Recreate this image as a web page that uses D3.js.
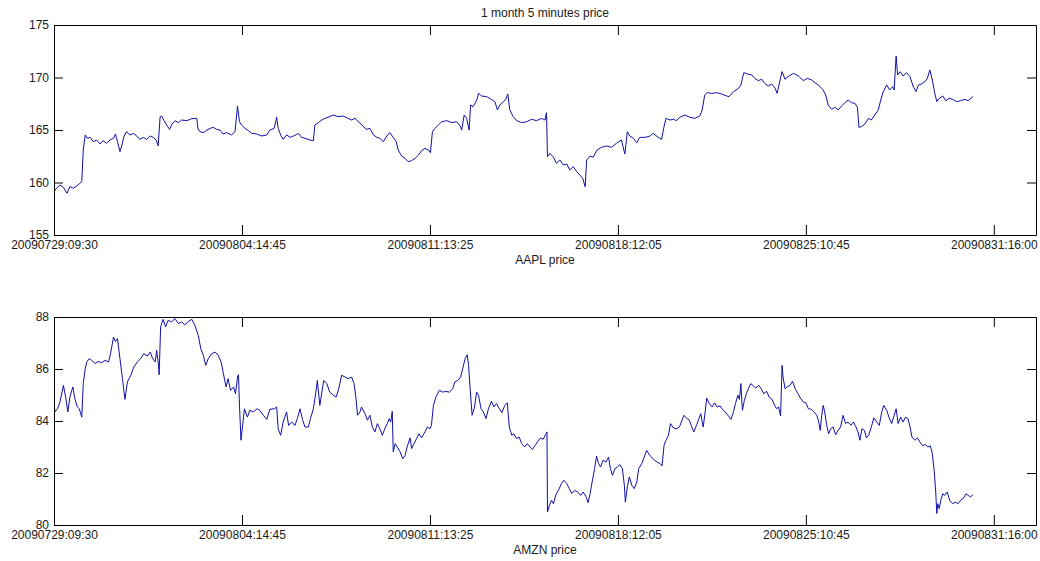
<!DOCTYPE html>
<html>
<head>
<meta charset="utf-8">
<script src="https://cdn.jsdelivr.net/npm/d3@7"></script>
<style>
  html, body { margin: 0; padding: 0; background: #fff; }
  svg { display: block; }
  text { font-family: "Liberation Sans", Arial, Helvetica, sans-serif; }
</style>
</head>
<body>
<svg id="chart" width="1040" height="561"></svg>
<script>
// Sample index (5-minute bars, 79 per trading day) at which each date label sits
const xTickIndex = [0, 379, 758, 1137, 1516, 1895];
const xTickLabels = ["20090729:09:30", "20090804:14:45", "20090811:13:25",
                     "20090818:12:05", "20090825:10:45", "20090831:16:00"];
const xDomain = [0, 1980];

const aaplTicks = [155, 160, 165, 170, 175];
const amznTicks = [80, 82, 84, 86, 88];

// [sample index, price]
const aaplSeries = [
[0,159.13],[5,159.45],[12,159.76],[19,159.54],[26,158.97],[32,159.60],[39,159.45],[46,159.67],[52,159.92],[56,160.08],[59,163.10],[63,164.53],[67,164.21],[73,164.30],[79,163.89],[86,164.05],[93,163.67],[99,163.98],[106,163.73],[113,164.05],[120,164.21],[124,164.62],[128,163.89],[133,162.94],[137,163.57],[141,164.37],[146,164.84],[153,164.53],[160,164.68],[167,164.43],[173,164.11],[180,164.30],[187,164.11],[194,164.43],[200,164.30],[206,164.05],[210,163.48],[214,166.27],[217,166.33],[222,165.89],[227,165.48],[233,165.06],[238,165.57],[244,165.89],[251,165.70],[257,165.95],[268,165.89],[278,166.08],[288,166.11],[290,165.16],[294,164.84],[301,164.75],[308,164.99],[315,165.16],[321,165.25],[328,165.06],[335,164.99],[341,164.62],[348,164.75],[358,164.53],[365,164.84],[367,165.79],[370,167.29],[374,165.79],[378,165.48],[385,165.16],[392,164.94],[399,164.68],[409,164.62],[419,164.43],[429,164.53],[435,164.99],[444,165.16],[449,166.21],[452,165.16],[457,164.53],[462,164.11],[469,164.53],[476,164.30],[483,164.43],[493,164.68],[499,164.30],[506,164.21],[516,164.05],[523,163.98],[526,165.48],[533,165.70],[540,165.95],[546,166.11],[556,166.27],[563,166.43],[573,166.27],[583,166.33],[593,166.11],[600,165.95],[607,166.11],[617,165.64],[624,165.32],[630,165.06],[637,165.16],[644,164.53],[651,164.30],[657,164.21],[664,163.89],[671,164.43],[677,164.75],[684,164.30],[690,163.89],[694,163.10],[701,162.52],[708,162.30],[714,161.98],[721,162.08],[728,162.30],[735,162.62],[741,163.03],[748,163.25],[755,163.10],[759,162.84],[763,164.84],[768,165.16],[775,165.48],[782,165.79],[792,165.89],[802,165.70],[812,165.79],[819,165.38],[822,164.99],[827,166.43],[832,166.11],[837,164.99],[840,167.38],[845,167.22],[852,167.79],[856,168.49],[862,168.24],[872,168.18],[882,167.92],[889,167.70],[894,166.91],[899,167.38],[906,167.70],[911,167.92],[915,168.43],[919,166.91],[926,166.27],[933,165.89],[943,165.70],[953,165.79],[963,166.02],[973,165.89],[983,166.11],[990,165.95],[993,166.65],[995,162.46],[1000,162.78],[1007,162.40],[1013,161.83],[1020,162.14],[1027,161.67],[1034,161.76],[1040,161.19],[1047,161.51],[1054,161.03],[1060,160.72],[1066,160.40],[1071,159.60],[1074,162.14],[1081,162.52],[1087,162.40],[1095,163.10],[1104,163.35],[1114,163.48],[1124,163.35],[1134,163.73],[1144,164.05],[1151,162.72],[1156,164.84],[1161,164.43],[1168,164.21],[1175,163.79],[1181,164.30],[1192,164.30],[1202,164.43],[1208,164.68],[1218,164.30],[1225,164.11],[1230,165.32],[1234,166.11],[1242,165.95],[1249,166.02],[1255,165.89],[1262,166.21],[1272,166.43],[1282,166.21],[1292,166.11],[1302,166.33],[1307,166.91],[1312,168.33],[1317,168.56],[1326,168.49],[1336,168.56],[1346,168.43],[1356,168.24],[1361,168.18],[1370,168.65],[1380,168.97],[1385,169.29],[1388,169.92],[1391,170.46],[1398,170.33],[1407,170.24],[1413,169.92],[1420,169.70],[1427,169.83],[1433,169.45],[1440,169.19],[1447,169.38],[1454,168.97],[1458,168.49],[1464,169.76],[1468,170.56],[1474,169.83],[1480,170.08],[1491,170.40],[1501,170.14],[1511,169.70],[1519,169.92],[1528,169.76],[1534,169.51],[1541,169.29],[1550,168.87],[1556,168.33],[1561,167.38],[1568,166.97],[1575,167.16],[1581,166.91],[1588,167.29],[1595,167.60],[1601,167.86],[1608,167.60],[1615,167.54],[1620,167.16],[1623,165.25],[1628,165.32],[1635,165.57],[1642,166.11],[1648,165.95],[1655,166.43],[1662,166.91],[1667,167.86],[1672,168.65],[1679,169.29],[1685,168.81],[1691,169.13],[1694,168.81],[1698,172.05],[1701,170.24],[1706,170.56],[1712,170.14],[1719,170.46],[1726,170.08],[1732,169.19],[1738,168.65],[1743,169.29],[1749,169.38],[1756,169.60],[1761,169.92],[1766,170.72],[1771,169.76],[1776,168.49],[1780,167.70],[1785,168.02],[1792,168.24],[1798,167.79],[1805,168.02],[1812,167.92],[1820,167.70],[1828,167.79],[1837,167.92],[1843,167.79],[1849,168.02],[1853,168.18]
];

const amznSeries = [
[0,84.73],[2,84.35],[7,84.47],[12,84.73],[19,85.37],[24,84.86],[28,84.35],[32,84.92],[38,85.31],[42,84.86],[47,84.54],[51,84.47],[56,84.15],[59,85.44],[63,86.01],[66,86.27],[71,86.40],[76,86.33],[83,86.21],[89,86.29],[96,86.24],[103,86.33],[110,86.27],[114,86.59],[120,87.23],[124,87.06],[128,87.17],[133,86.40],[138,85.63],[143,84.83],[148,85.50],[155,85.76],[161,86.08],[168,86.27],[175,86.40],[181,86.59],[188,86.50],[194,86.65],[199,86.40],[204,86.27],[207,86.72],[210,86.27],[212,85.78],[215,87.62],[220,87.91],[225,87.62],[230,87.87],[237,87.81],[244,87.94],[251,87.74],[257,87.81],[264,87.70],[271,87.83],[278,87.91],[284,87.68],[291,87.29],[296,86.78],[301,86.53],[306,86.14],[311,86.40],[318,86.59],[325,86.65],[331,86.53],[337,86.27],[341,85.88],[347,85.31],[351,85.63],[356,85.18],[362,85.31],[366,85.05],[370,85.69],[372,85.78],[374,84.60],[377,83.26],[380,83.77],[384,84.47],[390,84.15],[395,84.41],[402,84.35],[409,84.47],[415,84.41],[422,84.22],[429,84.06],[435,84.45],[444,84.47],[449,84.54],[452,83.70],[457,83.45],[462,83.96],[469,84.35],[473,83.83],[479,83.96],[486,83.83],[491,84.12],[496,84.47],[501,84.06],[506,83.77],[513,83.77],[517,84.09],[523,84.47],[528,85.11],[531,85.56],[536,84.60],[540,85.11],[544,85.56],[550,85.44],[556,85.11],[563,84.99],[569,84.92],[574,85.24],[580,85.76],[587,85.69],[593,85.63],[600,85.69],[605,85.44],[609,84.86],[612,84.22],[617,84.35],[620,84.54],[627,84.28],[632,84.03],[637,84.22],[642,83.77],[647,83.58],[652,83.90],[657,83.70],[662,83.45],[667,83.70],[672,83.90],[676,84.09],[679,83.96],[682,84.37],[684,82.81],[688,83.13],[692,83.00],[698,82.81],[703,82.55],[708,82.68],[712,83.00],[718,83.35],[721,82.94],[726,83.13],[731,83.32],[736,83.51],[741,83.35],[748,83.58],[753,83.77],[758,83.70],[761,83.83],[765,84.60],[770,84.92],[777,85.18],[784,85.11],[790,85.14],[797,85.11],[804,85.24],[808,85.50],[814,85.56],[820,85.69],[824,86.01],[829,86.40],[833,86.55],[836,86.14],[839,85.24],[843,84.22],[848,84.54],[852,85.11],[856,84.99],[861,84.47],[866,84.35],[871,84.09],[876,84.47],[882,84.76],[887,84.54],[892,84.67],[898,84.47],[903,84.32],[909,84.60],[914,84.70],[918,83.77],[923,83.45],[927,83.51],[933,83.32],[938,83.38],[943,83.13],[949,83.00],[954,83.13],[960,83.00],[965,82.91],[970,83.06],[976,83.22],[981,83.35],[986,83.29],[991,83.47],[994,83.58],[995,80.50],[999,80.76],[1003,80.95],[1007,80.82],[1012,81.17],[1017,81.33],[1023,81.59],[1028,81.72],[1034,81.59],[1039,81.40],[1044,81.21],[1050,81.33],[1056,81.27],[1062,81.14],[1067,81.27],[1073,81.08],[1077,80.86],[1081,81.21],[1085,81.65],[1090,82.17],[1094,82.65],[1098,82.36],[1102,82.23],[1107,82.49],[1113,82.42],[1118,82.61],[1122,82.17],[1126,81.91],[1131,82.17],[1136,82.23],[1141,82.32],[1146,82.17],[1150,81.53],[1152,80.88],[1156,81.46],[1160,81.85],[1165,81.53],[1170,81.40],[1175,81.65],[1179,82.17],[1185,82.36],[1189,82.55],[1195,82.87],[1200,82.71],[1206,82.58],[1211,82.49],[1216,82.42],[1222,82.36],[1226,82.27],[1230,83.06],[1234,83.26],[1239,83.45],[1243,83.90],[1249,83.73],[1255,83.70],[1261,83.77],[1265,83.96],[1270,84.22],[1275,84.12],[1281,84.03],[1286,83.77],[1290,83.58],[1296,83.86],[1301,84.12],[1304,84.28],[1309,83.77],[1313,84.35],[1316,84.88],[1321,84.67],[1327,84.54],[1332,84.70],[1337,84.54],[1343,84.58],[1348,84.45],[1353,84.35],[1360,84.19],[1365,84.06],[1370,84.35],[1374,84.67],[1379,84.99],[1382,84.83],[1385,85.44],[1388,84.41],[1392,84.79],[1396,85.05],[1400,85.24],[1405,85.44],[1410,85.35],[1415,85.27],[1421,85.37],[1426,85.24],[1431,85.05],[1437,85.14],[1442,84.92],[1448,84.83],[1453,84.60],[1457,84.47],[1461,84.54],[1465,84.19],[1468,86.14],[1470,85.69],[1474,85.24],[1478,85.31],[1484,85.37],[1489,85.53],[1495,85.22],[1500,85.05],[1505,84.88],[1511,84.73],[1516,84.70],[1521,84.47],[1527,84.45],[1532,84.35],[1538,84.22],[1542,83.96],[1545,83.64],[1548,84.22],[1551,84.60],[1554,84.35],[1558,83.83],[1562,83.51],[1566,83.70],[1571,83.77],[1576,83.47],[1581,83.64],[1586,83.77],[1591,84.22],[1596,83.90],[1601,83.96],[1607,83.83],[1612,83.96],[1617,83.77],[1621,83.58],[1625,83.26],[1629,83.70],[1634,83.64],[1638,83.35],[1643,83.47],[1648,83.77],[1653,84.12],[1659,83.96],[1664,83.83],[1669,84.35],[1673,84.60],[1679,84.41],[1684,84.12],[1689,83.90],[1694,84.22],[1698,84.47],[1702,83.90],[1707,84.15],[1712,83.96],[1717,84.15],[1722,84.09],[1726,83.77],[1730,83.38],[1736,83.26],[1741,83.35],[1746,83.19],[1751,83.06],[1757,83.09],[1762,83.00],[1767,83.04],[1771,82.74],[1775,82.04],[1778,81.20],[1780,80.44],[1782,80.82],[1785,80.63],[1788,80.95],[1792,81.20],[1796,81.14],[1801,81.27],[1806,80.95],[1812,80.82],[1817,80.88],[1823,80.82],[1828,80.95],[1833,81.01],[1839,81.20],[1843,81.14],[1848,81.08],[1853,81.17]
];

const svg = d3.select("#chart");
svg.append("rect").attr("width", 1040).attr("height", 561).attr("fill", "#fff");

const left = 54, right = 1036;
const lineColor = "#1010a8";
const textColor = "#1a1a1a";

function drawPanel(opts) {
  const { top, bottom, yDomain, yTicks, series, xlabel, id } = opts;
  const x = d3.scaleLinear().domain(xDomain).range([left, right]);
  const y = d3.scaleLinear().domain(yDomain).range([bottom, top]);
  const g = svg.append("g").attr("class", "panel-" + id);

  // data line, clipped to the axes box
  g.append("clipPath").attr("id", "clip-" + id)
    .append("rect").attr("x", left).attr("y", top)
    .attr("width", right - left).attr("height", bottom - top);

  g.append("path")
    .datum(series)
    .attr("clip-path", "url(#clip-" + id + ")")
    .attr("fill", "none")
    .attr("stroke", lineColor)
    .attr("stroke-width", 1)
    .attr("stroke-linejoin", "round")
    .attr("d", d3.line().x(d => x(d[0])).y(d => y(d[1])));

  const fmtX = (v) => xTickLabels[xTickIndex.indexOf(v)];

  // bottom axis with date labels, ticks pointing inward
  const ax = g.append("g").attr("transform", `translate(0,${bottom})`)
    .call(d3.axisBottom(x).tickValues(xTickIndex).tickFormat(fmtX)
      .tickSizeInner(-10).tickSizeOuter(0).tickPadding(5));
  // mirrored top axis
  const axTop = g.append("g").attr("transform", `translate(0,${top})`)
    .call(d3.axisTop(x).tickValues(xTickIndex).tickFormat("")
      .tickSizeInner(-10).tickSizeOuter(0));
  // left axis with price labels
  const ayL = g.append("g").attr("transform", `translate(${left},0)`)
    .call(d3.axisLeft(y).tickValues(yTicks).tickFormat(d3.format("d"))
      .tickSizeInner(-9).tickSizeOuter(0).tickPadding(5));
  // mirrored right axis
  const ayR = g.append("g").attr("transform", `translate(${right},0)`)
    .call(d3.axisRight(y).tickValues(yTicks).tickFormat("")
      .tickSizeInner(-9).tickSizeOuter(0));

  [ax, axTop, ayL, ayR].forEach(a => {
    a.select(".domain").attr("stroke", "#000").attr("stroke-width", 1);
    a.selectAll(".tick line").attr("stroke", "#000").attr("stroke-width", 1);
    a.selectAll("text").attr("font-size", 12).attr("fill", textColor)
      .attr("font-family", "'Liberation Sans', Arial, sans-serif");
  });

  g.append("text")
    .attr("x", (left + right) / 2).attr("y", bottom + 29)
    .attr("text-anchor", "middle")
    .attr("font-size", 12).attr("fill", textColor)
    .text(xlabel);
}

svg.append("text")
  .attr("x", (left + right) / 2).attr("y", 17)
  .attr("text-anchor", "middle")
  .attr("font-size", 12).attr("fill", textColor)
  .text("1 month 5 minutes price");

drawPanel({ id: "aapl", top: 25, bottom: 235, yDomain: [155, 175], yTicks: aaplTicks,
            series: aaplSeries, xlabel: "AAPL price" });
drawPanel({ id: "amzn", top: 317, bottom: 525, yDomain: [80, 88], yTicks: amznTicks,
            series: amznSeries, xlabel: "AMZN price" });
</script>
</body>
</html>
